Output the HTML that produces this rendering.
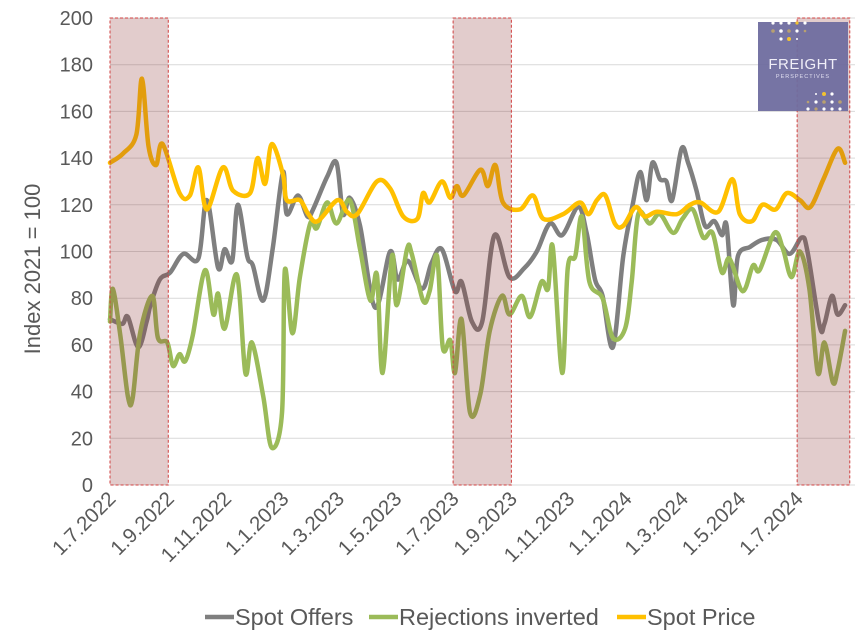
<!DOCTYPE html>
<html><head><meta charset="utf-8">
<style>
html,body{margin:0;padding:0;background:#fff;}
svg{display:block;font-family:"Liberation Sans",Arial,sans-serif;}
</style></head>
<body>
<svg id="chart" width="865" height="632" viewBox="0 0 865 632" xmlns="http://www.w3.org/2000/svg">
<g id="grid"></g>
<g id="yticks"></g>
<g id="xticks"></g>
<g id="series"></g>
<g id="shades"></g>
<text transform="translate(40,269) rotate(-90)" text-anchor="middle" font-size="22" fill="#595959">Index 2021 = 100</text>
<g>
  <rect x="758" y="22" width="90" height="89" fill="#6f6d9f" opacity="0.95"/>
  <text x="803" y="69" text-anchor="middle" font-size="15" fill="#f0eef8" letter-spacing="0.5">FREIGHT</text>
  <text x="803" y="78" text-anchor="middle" font-size="5.5" fill="#e0def0" letter-spacing="1">PERSPECTIVES</text>
  <g fill="#ffffff">
    <circle cx="773" cy="23" r="1.6"/><circle cx="781" cy="23" r="1.6"/><circle cx="789" cy="23" r="1.6"/><circle cx="805" cy="23" r="1.6"/>
    <circle cx="781" cy="31" r="1.8"/><circle cx="797" cy="31" r="1.6"/><circle cx="781" cy="39" r="1.6"/><circle cx="797" cy="39" r="1"/>
    <circle cx="816" cy="94" r="1"/><circle cx="832" cy="94" r="1.6"/><circle cx="816" cy="102" r="1.6"/><circle cx="832" cy="102" r="1.6"/>
    <circle cx="808" cy="109" r="1.6"/><circle cx="824" cy="109" r="1.6"/><circle cx="832" cy="109" r="1.6"/><circle cx="840" cy="109" r="1.6"/>
  </g>
  <g fill="#b8a070">
    <circle cx="773" cy="31" r="1.8"/><circle cx="789" cy="31" r="1.8"/><circle cx="805" cy="31" r="1.3"/>
    <circle cx="808" cy="102" r="1.3"/><circle cx="824" cy="102" r="1.8"/><circle cx="840" cy="102" r="1.8"/><circle cx="816" cy="109" r="1.6"/>
  </g>
  <g fill="#f2c230"><circle cx="789" cy="39" r="2"/><circle cx="824" cy="94" r="2"/><circle cx="797" cy="23" r="1.6"/></g>
</g>
<g>
  <g>
    <line x1="205" y1="617" x2="234" y2="617" stroke="#7f7f7f" stroke-width="4.5"/>
    <text x="235" y="625" font-size="23.5" fill="#595959">Spot Offers</text>
  </g>
  <g>
    <line x1="369" y1="617" x2="398" y2="617" stroke="#9bbb59" stroke-width="4.5"/>
    <text x="399" y="625" font-size="23.5" fill="#595959">Rejections inverted</text>
  </g>
  <g>
    <line x1="617" y1="617" x2="646" y2="617" stroke="#ffc000" stroke-width="4.5"/>
    <text x="647" y="625" font-size="23.5" fill="#595959">Spot Price</text>
  </g>
</g>
</svg>
<script>
// ---- data (day offsets since 1.7.2022, index values) ----
const yTicks = [0,20,40,60,80,100,120,140,160,180,200];
const xTickLabels = ["1.7.2022","1.9.2022","1.11.2022","1.1.2023","1.3.2023","1.5.2023","1.7.2023","1.9.2023","1.11.2023","1.1.2024","1.3.2024","1.5.2024","1.7.2024"];
const xTickDays = [0,62,123,184,243,304,365,427,488,549,609,670,731];
const shadeStarts = [0,365,731];
const shadeEnds = [62,427,787];

const offersDays = [0,13,19,30,39,43,53,64,78,94,103,115,122,130,136,146,152,163,173,184,188,200,210,216,231,241,248,255,266,282,298,306,317,332,342,353,367,374,385,396,409,425,441,454,468,481,498,507,516,524,535,546,556,564,571,577,585,592,598,608,615,624,633,643,651,656,663,668,681,694,709,723,736,742,755,760,768,774,782];
const offersValues = [71,69,72,59,70,77,88,91,99,97,122,93,101,96,120,98,94,79,101,134,116,124,115,118,132,138,116,123,111,76,100,88,96,84,95,101,83,87,70,70,107,89,93,100,112,107,119,108,88,81,59,98,120,134,122,138,131,130,122,144,138,126,111,113,107,111,77,98,102,105,105,99,106,100,68,69,81,73,77];

const rejDays = [0,3,11,19,24,32,45,51,61,67,74,80,88,101,110,115,122,135,144,151,163,172,183,186,194,202,213,220,231,241,255,266,277,284,290,300,305,316,321,333,340,348,354,362,367,374,383,394,404,417,425,438,447,459,466,471,481,487,495,502,510,524,535,548,555,562,574,585,599,609,620,631,641,651,659,673,684,691,707,716,725,734,744,753,760,769,774,782];
const rejValues = [70,84,64,38,37,65,81,63,61,51,56,53,64,92,73,82,67,90,48,61,38,16,31,92,65,89,112,110,121,112,122,101,79,90,48,98,77,101,99,79,83,98,59,62,48,71,31,39,66,81,73,81,72,87,84,102,48,93,98,115,87,80,63,67,87,116,112,116,108,114,118,106,108,91,97,83,94,92,108,101,89,100,84,48,61,44,49,66];

const priceDays = [0,14,28,34,41,49,56,74,85,94,103,120,131,149,157,165,172,184,188,202,211,221,242,252,263,284,298,312,327,333,340,353,362,369,376,394,402,410,418,436,450,461,482,500,509,518,527,537,546,559,569,582,603,617,628,647,662,670,683,694,708,720,734,745,759,774,782];
const priceValues = [138,142,150,174,145,137,146,125,124,136,118,136,126,125,140,129,146,133,122,122,116,113,122,117,116,130,127,115,114,125,121,130,123,128,124,135,128,137,121,118,124,114,116,121,116,122,124,112,111,119,115,117,116,120,121,117,131,116,113,120,118,125,122,119,131,144,138];

// ---- axes ----
const X0 = 110, PX_PER_DAY = 0.94, Y0 = 485, PX_PER_UNIT = 2.335;
const xScale = d => X0 + d * PX_PER_DAY;
const yScale = v => Y0 - v * PX_PER_UNIT;
const NS = "http://www.w3.org/2000/svg";
const mk = (t, parent) => { const e = document.createElementNS(NS, t); parent.appendChild(e); return e; };

const grid = document.getElementById('grid');
const yt = document.getElementById('yticks');
yTicks.forEach(v => {
  const l = mk('line', grid);
  
  
  l.setAttribute('x1', 110); l.setAttribute('x2', 855);
  l.setAttribute('y1', yScale(v)); l.setAttribute('y2', yScale(v));
  l.setAttribute('stroke', '#d9d9d9'); l.setAttribute('stroke-width', '1');
  const t = mk('text', yt);
  
  
  t.setAttribute('x', 93); t.setAttribute('y', yScale(v) + 7);
  t.setAttribute('text-anchor', 'end'); t.setAttribute('font-size', '20'); t.setAttribute('fill', '#595959');
  t.textContent = v;
});

const xt = document.getElementById('xticks');
xTickLabels.forEach((lab, i) => {
  const x = xScale(xTickDays[i]);
  const t = mk('text', xt);
  
  
  t.setAttribute('transform', `translate(${x + 7},${500}) rotate(-45)`);
  t.setAttribute('text-anchor', 'end'); t.setAttribute('font-size', '20.5'); t.setAttribute('fill', '#595959');
  t.textContent = lab;
});

// ---- smoothed lines ----
function smoothPath(days, vals) {
  const p = days.map((d, i) => [xScale(d), yScale(vals[i])]);
  let s = `M${p[0][0]},${p[0][1]}`;
  for (let i = 0; i < p.length - 1; i++) {
    const a = p[Math.max(0, i - 1)], b = p[i], c = p[i + 1], d = p[Math.min(p.length - 1, i + 2)];
    const k = 1 / 6;
    const c1 = [b[0] + (c[0] - a[0]) * k, b[1] + (c[1] - a[1]) * k];
    const c2 = [c[0] - (d[0] - b[0]) * k, c[1] - (d[1] - b[1]) * k];
    s += ` C${c1[0]},${c1[1]} ${c2[0]},${c2[1]} ${c[0]},${c[1]}`;
  }
  return s;
}
const series = document.getElementById('series');
const p1 = mk('path', series);


p1.setAttribute('d', smoothPath(offersDays, offersValues));
p1.setAttribute('stroke', '#7f7f7f');
const p2 = mk('path', series);


p2.setAttribute('d', smoothPath(rejDays, rejValues));
p2.setAttribute('stroke', '#9bbb59');
const p3 = mk('path', series);


p3.setAttribute('d', smoothPath(priceDays, priceValues));
p3.setAttribute('stroke', '#ffc000');
[p1, p2, p3].forEach(p => { p.setAttribute('fill', 'none'); p.setAttribute('stroke-width', '4.5'); p.setAttribute('stroke-linejoin', 'round'); p.setAttribute('stroke-linecap', 'round'); });

// ---- shaded periods ----
const sh = document.getElementById('shades');
shadeStarts.forEach((s, i) => {
  const r = mk('rect', sh);
  
  
  const x1 = xScale(s), x2 = xScale(shadeEnds[i]);
  r.setAttribute('x', x1); r.setAttribute('y', 18);
  r.setAttribute('width', x2 - x1); r.setAttribute('height', 467);
  r.setAttribute('fill', 'rgba(140,50,50,0.25)');
  r.setAttribute('stroke', '#d04040'); r.setAttribute('stroke-width', '1');
  r.setAttribute('stroke-dasharray', '3,2');
});
</script>
</body></html>
